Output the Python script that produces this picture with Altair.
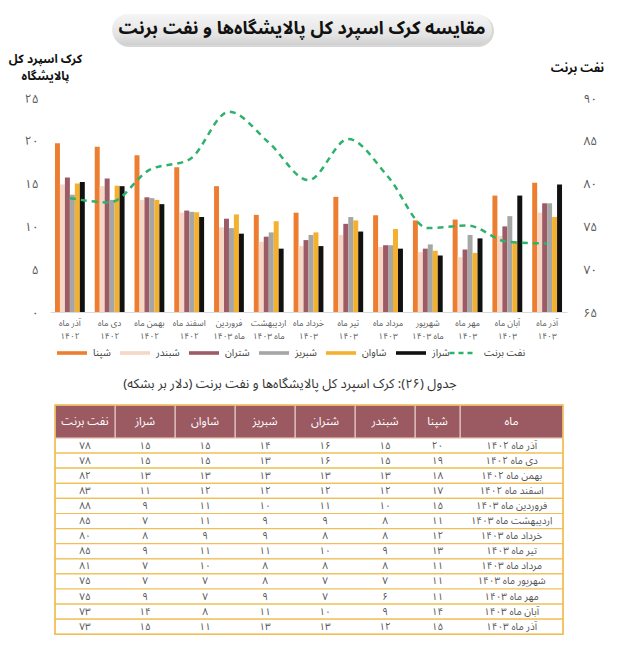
import altair as alt
import pandas as pd

FONT = "Noto Sans Arabic, DejaVu Sans, sans-serif"

# ---------------- data ----------------
months = [
    "آذر ماه ۱۴۰۲", "دی ماه ۱۴۰۲", "بهمن ماه ۱۴۰۲", "اسفند ماه ۱۴۰۲",
    "فروردین ماه ۱۴۰۳", "اردیبهشت ماه ۱۴۰۳", "خرداد ماه ۱۴۰۳", "تیر ماه ۱۴۰۳",
    "مرداد ماه ۱۴۰۳", "شهریور ماه ۱۴۰۳", "مهر ماه ۱۴۰۳", "آبان ماه ۱۴۰۳", "آذر ماه ۱۴۰۳",
]
series_names = ["شپنا", "شبندر", "شتران", "شبریز", "شاوان", "شراز"]
shepna    = [19.7, 19.3, 18.3, 16.9, 14.7, 11.35, 11.6, 13.45, 11.3, 10.7, 10.8, 13.6, 15.1]
shebandar = [14.9, 14.7, 13.1, 11.6, 9.9, 8.2, 7.7, 9.0, 7.6, 7.0, 6.4, 8.9, 11.6]
shetran   = [15.7, 15.6, 13.4, 11.85, 10.9, 8.8, 8.4, 10.3, 7.8, 7.4, 7.3, 10.0, 12.7]
shebriz   = [13.7, 13.1, 13.3, 11.7, 9.8, 9.3, 9.0, 11.1, 7.8, 7.9, 9.0, 11.2, 12.7]
shavan    = [15.0, 14.75, 13.1, 11.65, 11.4, 10.6, 9.3, 10.7, 9.7, 7.15, 6.9, 8.25, 11.1]
sheraz    = [15.2, 14.7, 12.6, 11.1, 9.15, 7.4, 7.7, 9.4, 7.4, 6.6, 8.6, 13.6, 14.9]
brent_name = "نفت برنت"
brent     = [78.3, 77.8, 81.6, 82.8, 88.4, 84.8, 80.4, 85.2, 80.8, 74.8, 75.1, 73.2, 73.0]

chart_title = "مقایسه کرک اسپرد کل پالایشگاه‌ها و نفت برنت"
left_axis_title = ["کرک اسپرد کل", "پالایشگاه"]
table_caption = "\u200fجدول (۲۶): کرک اسپرد کل پالایشگاه‌ها و نفت برنت (دلار بر بشکه)\u200f"
month_header = "ماه"

# ---------------- styles ----------------
series_colors = ["#ED7D31", "#F6D7C5", "#9C5B65", "#A6A6A6", "#F4B02F", "#111111"]
brent_color = "#2DB26B"
header_color = "#9B5A62"
border_color = "#F2BE57"
text_gray = "#595959"

FA = str.maketrans("0123456789", "۰۱۲۳۴۵۶۷۸۹")
def fa(n):
    return str(n).translate(FA)

digit_expr = "datum.label"
for d, f in zip("0123456789", "۰۱۲۳۴۵۶۷۸۹"):
    digit_expr = f"replace({digit_expr}, regexp('{d}', 'g'), '{f}')"

month_label_expr = (
    "length(split(datum.label, ' ')[0]) > 5 ? "
    "[split(datum.label, ' ')[0], split(datum.label, ' ')[1] + ' ' + split(datum.label, ' ')[2]] : "
    "[split(datum.label, ' ')[0] + ' ' + split(datum.label, ' ')[1], split(datum.label, ' ')[2]]"
)

all_values = [shepna, shebandar, shetran, shebriz, shavan, sheraz]
bars_df = pd.DataFrame(
    [{"month": m, "series": s, "value": v}
     for s, vals in zip(series_names, all_values) for m, v in zip(months, vals)]
)
brent_df = pd.DataFrame({"month": months, "brent": brent, "name": brent_name})

W, H = 517, 214

x_enc = alt.X(
    "month:N", sort=months,
    scale=alt.Scale(paddingInner=0.25, paddingOuter=0.125),
    axis=alt.Axis(title=None, labelAngle=0, labelExpr=month_label_expr, labelFont=FONT,
                  labelFontSize=8.5, labelColor=text_gray, labelPadding=6, labelLineHeight=13,
                  labelBaseline="top", ticks=False, domainColor="#D9D9D9", domainWidth=1, grid=False,
                  labelOverlap=False),
)

bars = alt.Chart(bars_df).mark_bar().encode(
    x=x_enc,
    xOffset=alt.XOffset("series:N", sort=series_names,
                        scale=alt.Scale(domain=series_names, paddingInner=0, paddingOuter=0)),
    y=alt.Y("value:Q", scale=alt.Scale(domain=[0, 25], nice=False),
            axis=alt.Axis(orient="left", values=[0, 5, 10, 15, 20, 25], labelExpr=digit_expr,
                          labelFont=FONT, labelFontSize=12, labelColor=text_gray, labelPadding=12,
                          ticks=False, domain=False, grid=False,
                          title=left_axis_title, titleAngle=0, titleFont=FONT, titleFontSize=12,
                          titleFontWeight="bold", titleColor="#111", titleX=-5, titleY=-40,
                          titleAlign="center", titleBaseline="middle", titleLineHeight=17)),
    color=alt.Color("series:N",
                    scale=alt.Scale(domain=series_names, range=series_colors),
                    legend=alt.Legend(orient="none", legendX=7, legendY=240, direction="horizontal",
                                      title=None, symbolType="M-1,-0.12H1V0.12H-1Z", symbolSize=900,
                                      symbolStrokeWidth=0, labelFont=FONT, labelFontSize=10,
                                      labelColor="#404040", labelOffset=6, columnPadding=9)),
)

line = alt.Chart(brent_df).mark_line(strokeDash=[6, 5], strokeWidth=2.5, interpolate="monotone").encode(
    x=alt.X("month:N", sort=months),
    y=alt.Y("brent:Q", scale=alt.Scale(domain=[65, 90], nice=False, zero=False),
            axis=alt.Axis(orient="right", values=[65, 70, 75, 80, 85, 90], labelExpr=digit_expr,
                          labelFont=FONT, labelFontSize=12, labelColor=text_gray, labelPadding=16,
                          ticks=False, domain=False, grid=False,
                          title=brent_name, titleAngle=0, titleFont=FONT, titleFontSize=12,
                          titleFontWeight="bold", titleColor="#111", titleX=10, titleY=-31,
                          titleAlign="center", titleBaseline="middle")),
    color=alt.Color("name:N", scale=alt.Scale(domain=[brent_name], range=[brent_color]),
                    legend=alt.Legend(orient="none", legendX=398, legendY=240, direction="horizontal",
                                      title=None, symbolType="stroke", symbolSize=729,
                                      symbolStrokeWidth=2.5, symbolDash=[5, 4],
                                      labelFont=FONT, labelFontSize=10, labelColor="#404040",
                                      labelOffset=6)),
)

main = alt.layer(bars, line).resolve_scale(y="independent", color="independent")

# ---------------- title pill & caption ----------------
title_df = pd.DataFrame({"t": [chart_title]})
pill_shadow = alt.Chart(title_df).mark_rect(cornerRadius=16, color="#BDBDBD", opacity=0.6).encode(
    x=alt.value(63), x2=alt.value(444), y=alt.value(-83), y2=alt.value(-51))
pill = alt.Chart(title_df).mark_rect(
    cornerRadius=16,
    color=alt.LinearGradient(gradient="linear", x1=0, y1=0, x2=0, y2=1,
                             stops=[alt.GradientStop(offset=0, color="#F5F5F5"),
                                    alt.GradientStop(offset=0.7, color="#E3E3E3"),
                                    alt.GradientStop(offset=1, color="#CFCFCF")]),
).encode(x=alt.value(62), x2=alt.value(442), y=alt.value(-84), y2=alt.value(-53))
title_text = alt.Chart(title_df).mark_text(font=FONT, fontSize=18, fontWeight="bold", color="#111").encode(
    x=alt.value(252), y=alt.value(-69), text="t:N")

cap_df = pd.DataFrame({"t": [table_caption]})
caption = alt.Chart(cap_df).mark_text(font=FONT, fontSize=13, color="#333").encode(
    x=alt.value(240), y=alt.value(286), text="t:N")

# ---------------- table ----------------
table_cols = [month_header] + series_names + [brent_name]      # right to left
col_widths = [103, 45, 60, 60, 60, 60, 60, 60]
total_w = sum(col_widths)
header_h, row_h = 33, 15.1
total_h = header_h + row_h * len(months)

edges = []
right = total_w
for c, w in zip(table_cols, col_widths):
    edges.append((c, right - w, right))
    right -= w

header_df = pd.DataFrame([{"label": c, "x1": a, "x2": b, "xc": (a + b) / 2,
                           "top": 0, "bottom": header_h, "yc": header_h / 2} for c, a, b in edges])
rows_df = pd.DataFrame([{"month": m, "x1": 0, "x2": total_w,
                         "top": header_h + i * row_h, "bottom": header_h + (i + 1) * row_h}
                        for i, m in enumerate(months)])
cells = []
col_values = {brent_name: brent}
for s, vals in zip(series_names, all_values):
    col_values[s] = vals
for i, m in enumerate(months):
    yc = header_h + (i + 0.5) * row_h
    for c, a, b in edges:
        txt = m if c == month_header else fa(int(round(col_values[c][i])))
        cells.append({"text": txt, "xc": (a + b) / 2, "yc": yc})
cells_df = pd.DataFrame(cells)
frame_df = pd.DataFrame([{"x1": 0, "x2": total_w, "top": 0, "bottom": total_h}])

tx = alt.Scale(domain=[0, total_w], range=[5, 5 + total_w], nice=False, zero=False)
ty = alt.Scale(domain=[0, total_h], range=[307, 307 + total_h], nice=False, zero=False)

row_rects = alt.Chart(rows_df).mark_rect(fill="white", stroke=border_color, strokeWidth=1.2).encode(
    x=alt.X("x1:Q", scale=tx, axis=None), x2="x2:Q",
    y=alt.Y("top:Q", scale=ty, axis=None), y2="bottom:Q")
header_rects = alt.Chart(header_df).mark_rect(fill=header_color, stroke="#EBD3CF", strokeWidth=1).encode(
    x=alt.X("x1:Q", scale=tx, axis=None), x2="x2:Q",
    y=alt.Y("top:Q", scale=ty, axis=None), y2="bottom:Q")
frame = alt.Chart(frame_df).mark_rect(fillOpacity=0, stroke=border_color, strokeWidth=1.5).encode(
    x=alt.X("x1:Q", scale=tx, axis=None), x2="x2:Q",
    y=alt.Y("top:Q", scale=ty, axis=None), y2="bottom:Q")
header_text = alt.Chart(header_df).mark_text(font=FONT, fontSize=11.5, color="white").encode(
    x=alt.X("xc:Q", scale=tx, axis=None), y=alt.Y("yc:Q", scale=ty, axis=None), text="label:N")
cell_text = alt.Chart(cells_df).mark_text(font=FONT, fontSize=10, color="#555555").encode(
    x=alt.X("xc:Q", scale=tx, axis=None), y=alt.Y("yc:Q", scale=ty, axis=None), text="text:N")

chart = alt.layer(
    pill_shadow, pill, title_text, main, caption, row_rects, header_rects, frame, header_text, cell_text
).resolve_scale(x="independent", y="independent").properties(
    width=W, height=H,
    autosize=alt.AutoSizeParams(type="none"),
    padding={"left": 42, "top": 90, "right": 54, "bottom": 326},
).configure(font=FONT).configure_view(stroke=None)

chart.save("out.html", embed_options={"renderer": "svg", "actions": False})
